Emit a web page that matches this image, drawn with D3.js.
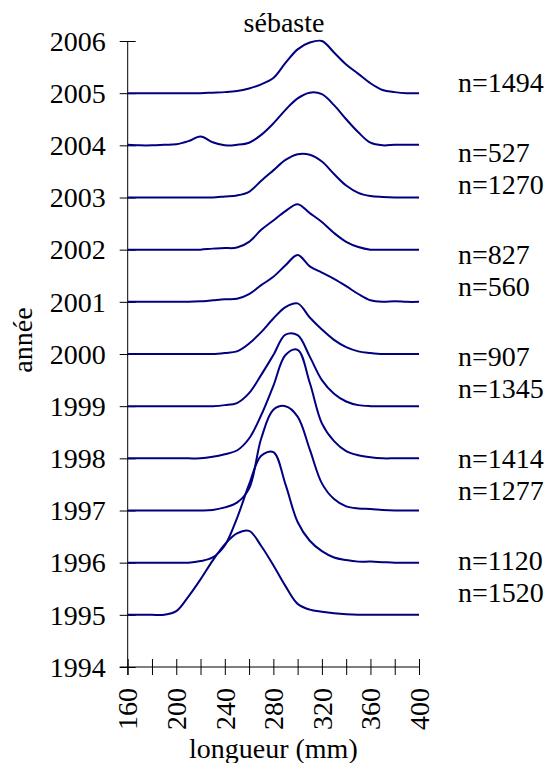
<!DOCTYPE html>
<html>
<head>
<meta charset="utf-8">
<script src="https://cdn.jsdelivr.net/npm/d3@7"></script>
</head>
<body style="margin:0">
<svg id="chart" width="547" height="763" font-family="serif"></svg>
<script>
'use strict';

// length classes (mm)
const lengths = [160, 170, 180, 190, 200, 210, 220, 230, 240, 250, 260, 270, 280,
  290, 300, 310, 320, 330, 340, 350, 360, 370, 380, 390, 400];

const years = [1995, 1996, 1997, 1998, 1999, 2000, 2001, 2002, 2003, 2004, 2005];
const counts = [1520, 1120, 1277, 1414, 1345, 907, 560, 827, 1270, 527, 1494];

// ridge heights, in units of one year spacing
const d1995 = [0, 0, 0, 0, 0.07, 0.35, 0.68, 1.04, 1.35, 1.56, 1.61, 1.32, 0.95, 0.55, 0.21, 0.10, 0.06, 0.03, 0.01, 0, 0, 0, 0, 0, 0];
const d1996 = [0, 0, 0, 0, 0, 0, 0.03, 0.10, 0.33, 0.85, 1.50, 2.05, 2.12, 1.50, 0.78, 0.42, 0.22, 0.10, 0.05, 0.02, 0.02, 0.01, 0, 0, 0];
const d1997 = [0, 0, 0, 0, 0, 0, 0, 0.01, 0.06, 0.15, 0.42, 1.38, 1.93, 2.00, 1.80, 1.17, 0.52, 0.22, 0.08, 0.04, 0.03, 0.01, 0, 0, 0];
const d1998 = [0, 0, 0, 0, 0, 0, 0, 0.03, 0.08, 0.15, 0.38, 0.83, 1.39, 1.98, 2.08, 1.45, 0.67, 0.33, 0.14, 0.06, 0.02, 0, 0, 0, 0];
const d1999 = [0, 0, 0, 0, 0, 0, 0, 0, 0.02, 0.06, 0.25, 0.60, 0.98, 1.37, 1.36, 0.95, 0.50, 0.24, 0.09, 0.02, 0, 0, 0, 0, 0];
const d2000 = [0, 0, 0, 0, 0, 0, 0, 0, 0.02, 0.05, 0.20, 0.42, 0.68, 0.90, 0.97, 0.70, 0.47, 0.27, 0.13, 0.05, 0.02, 0, 0, 0, 0];
const d2001 = [0, 0, 0, 0, 0, 0, 0.01, 0.03, 0.05, 0.06, 0.15, 0.32, 0.48, 0.70, 0.90, 0.68, 0.56, 0.44, 0.30, 0.15, 0.03, 0, 0.01, 0, 0];
const d2002 = [0, 0, 0, 0, 0, 0, 0, 0.02, 0.03, 0.04, 0.15, 0.38, 0.56, 0.74, 0.87, 0.70, 0.53, 0.32, 0.15, 0.05, 0, 0, 0, 0, 0];
const d2003 = [0, 0, 0, 0, 0, 0, 0, 0, 0.02, 0.04, 0.11, 0.32, 0.52, 0.72, 0.83, 0.82, 0.69, 0.45, 0.23, 0.09, 0.03, 0.01, 0, 0, 0];
const d2004 = [0.01, 0, 0, 0.01, 0.02, 0.08, 0.17, 0.06, 0, 0.01, 0.05, 0.20, 0.42, 0.68, 0.90, 1.01, 0.98, 0.77, 0.50, 0.25, 0.05, 0, 0.01, 0.01, 0.01];
const d2005 = [0, 0, 0, 0, 0, 0, 0, 0.01, 0.02, 0.04, 0.09, 0.17, 0.29, 0.58, 0.84, 0.97, 1.00, 0.78, 0.55, 0.37, 0.19, 0.06, 0.02, 0, 0];

const ridges = [d1995, d1996, d1997, d1998, d1999, d2000, d2001, d2002, d2003, d2004, d2005];

const xTicks = [160, 180, 200, 220, 240, 260, 280, 300, 320, 340, 360, 380, 400];
const yTicks = [1994, 1995, 1996, 1997, 1998, 1999, 2000, 2001, 2002, 2003, 2004, 2005, 2006];

const chartTitle = 'sébaste';
const xTitle = 'longueur (mm)';
const yTitle = 'année';

// layout
const serif = 'Liberation Serif, Times New Roman, serif';
const fs = 28;
const plot = { left: 127.7, right: 419, top: 41, bottom: 667 };
const svg = d3.select('#chart');

const xScale = d3.scaleLinear().domain([160, 400]).range([plot.left, plot.right]);
const yScale = d3.scaleLinear().domain([1994, 2006]).range([plot.bottom, plot.top]);

// ridges
const ridgeLine = d3
  .line()
  .x((d) => xScale(d.len))
  .y((d) => yScale(d.year + d.value))
  .curve(d3.curveCatmullRom.alpha(0.5));

const series = years.map((year, i) => ({
  year: year,
  values: lengths.map((len, j) => ({ len: len, year: year, value: ridges[i][j] })),
}));

// y axis, ticks crossing the axis line
const yAxis = d3.axisLeft(yScale).tickValues(yTicks).tickFormat(d3.format('d')).tickSize(8).tickPadding(14);

svg
  .append('g')
  .attr('transform', 'translate(' + plot.left + ',0)')
  .call(yAxis)
  .call((g) => {
    g.attr('font-family', serif).attr('font-size', fs);
    g.select('.domain').remove();
    g.selectAll('line').attr('x2', -8).attr('x1', 8).attr('stroke', '#000');
    g.selectAll('text')
      .attr('font-family', serif)
      .attr('font-size', fs)
      .attr('fill', '#000')
      .attr('dy', '0.33em');
  });

svg
  .append('line')
  .attr('x1', plot.left)
  .attr('x2', plot.left)
  .attr('y1', plot.top)
  .attr('y2', plot.bottom + 8)
  .attr('stroke', '#000');

// x axis
const xAxis = d3
  .axisBottom(xScale)
  .tickValues(xTicks)
  .tickFormat((d) => (d % 40 === 0 ? d : ''))
  .tickSize(8);

svg
  .append('g')
  .attr('transform', 'translate(0,' + plot.bottom + ')')
  .call(xAxis)
  .call((g) => {
    g.attr('font-family', serif).attr('font-size', fs);
    g.select('.domain').remove();
    g.selectAll('line').attr('y1', -8).attr('y2', 8).attr('stroke', '#000');
    g.selectAll('text')
      .attr('font-family', serif)
      .attr('font-size', fs)
      .attr('fill', '#000')
      .attr('text-anchor', 'end')
      .attr('transform', 'translate(0,21) rotate(-90)')
      .attr('x', 0)
      .attr('y', 0)
      .attr('dy', '0.33em');
  });

svg
  .append('line')
  .attr('x1', plot.left - 8)
  .attr('x2', plot.right)
  .attr('y1', plot.bottom)
  .attr('y2', plot.bottom)
  .attr('stroke', '#000');

svg
  .append('g')
  .selectAll('path')
  .data(series)
  .enter()
  .append('path')
  .attr('fill', 'none')
  .attr('stroke', '#000080')
  .attr('stroke-width', 2)
  .attr('stroke-linejoin', 'round')
  .attr('d', (d) => ridgeLine(d.values));

// sample sizes, listed top to bottom: one alone, then pairs
const labels = years
  .map((year, i) => ({ year: year, n: counts[i] }))
  .reverse();

svg
  .selectAll('.count')
  .data(labels)
  .enter()
  .append('text')
  .attr('class', 'count')
  .attr('x', 458)
  .attr('y', (d, i) => (i === 0 ? 91.7 : 161.7 + Math.floor((i - 1) / 2) * 102.1 + ((i - 1) % 2) * 32))
  .attr('font-family', serif)
  .attr('font-size', fs)
  .text((d) => 'n=' + d.n);

// titles
svg
  .append('text')
  .attr('x', 284)
  .attr('y', 32)
  .attr('text-anchor', 'middle')
  .attr('font-family', serif)
  .attr('font-size', fs)
  .text(chartTitle);

svg
  .append('text')
  .attr('x', (plot.left + plot.right) / 2)
  .attr('y', 758)
  .attr('text-anchor', 'middle')
  .attr('font-family', serif)
  .attr('font-size', fs)
  .text(xTitle);

svg
  .append('text')
  .attr('transform', 'translate(32,340) rotate(-90)')
  .attr('text-anchor', 'middle')
  .attr('font-family', serif)
  .attr('font-size', fs)
  .text(yTitle);
</script>
</body>
</html>
